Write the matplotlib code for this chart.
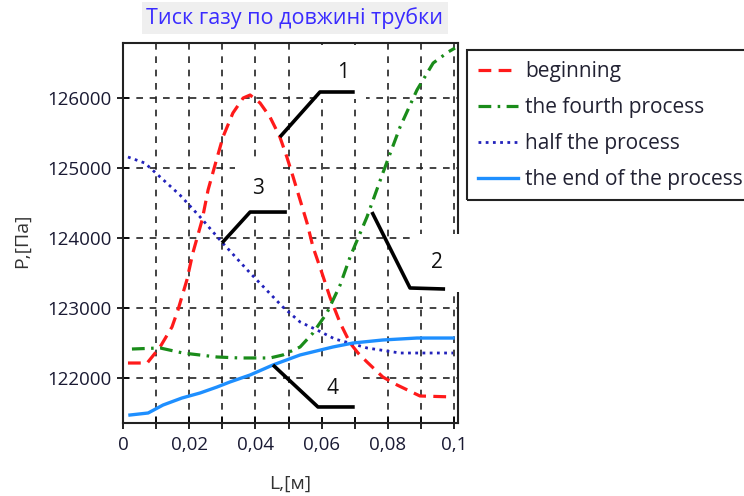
import numpy as np
import matplotlib.pyplot as plt
from matplotlib.patches import Rectangle

plt.rcParams['font.family'] = ['Open Sans', 'DejaVu Sans']

# beginning
x_begin = [0.0015, 0.0073, 0.0112, 0.0148, 0.0166, 0.0193, 0.0211, 0.0239, 0.0257, 0.0278,
           0.0302, 0.0332, 0.0363, 0.0384, 0.0414, 0.0444, 0.0474, 0.0495, 0.0514, 0.0535,
           0.0556, 0.0574, 0.0601, 0.0625, 0.0656, 0.0686, 0.0710, 0.0737, 0.0785, 0.0828,
           0.0897, 0.0997]
p_begin = [122214, 122214, 122443, 122729, 122971, 123400, 123786, 124257, 124686, 125043,
           125443, 125786, 126000, 126043, 125929, 125729, 125443, 125157, 124871, 124543,
           124214, 123871, 123500, 123157, 122786, 122500, 122357, 122229, 122014, 121900,
           121743, 121729]

# the fourth process
x_fourth = [0.0027, 0.0112, 0.0181, 0.0284, 0.0353, 0.0444, 0.0483, 0.0535, 0.0574, 0.0616,
            0.0656, 0.0686, 0.0737, 0.0785, 0.0837, 0.0888, 0.0937, 0.0982, 0.1003]
p_fourth = [122414, 122429, 122357, 122300, 122286, 122286, 122329, 122443, 122643, 122929,
            123329, 123729, 124300, 124929, 125586, 126114, 126500, 126657, 126714]

# half the process
x_half = [0.0015, 0.0066, 0.0172, 0.0233, 0.0293, 0.0384, 0.0483, 0.0535, 0.0586, 0.0640,
          0.0695, 0.0737, 0.0837, 0.0997]
p_half = [125157, 125071, 124614, 124300, 123971, 123500, 123014, 122800, 122686, 122557,
          122486, 122429, 122357, 122357]

# the end of the process
x_end = [0.0021, 0.0076, 0.0121, 0.0178, 0.0233, 0.0284, 0.0323, 0.0384, 0.0453, 0.0535,
         0.0634, 0.0695, 0.0785, 0.0888, 0.0997]
p_end = [121471, 121500, 121614, 121714, 121786, 121871, 121943, 122043, 122186, 122329,
         122443, 122500, 122543, 122571, 122571]

xticks = [0, 0.02, 0.04, 0.06, 0.08, 0.1]
xtick_labels = ['0', '0,02', '0,04', '0,06', '0,08', '0,1']
yticks = [122000, 123000, 124000, 125000, 126000]

# callouts: number, line path (x, y), text position, box padding
callouts = [
    ('1', [(0.0474, 125443), (0.0595, 126086), (0.0700, 126086)], (0.0665, 126371), 12),
    ('2', [(0.0752, 124371), (0.0867, 123286), (0.0973, 123271)], (0.0949, 123643), 13),
    ('3', [(0.0299, 123929), (0.0384, 124371), (0.0495, 124371)], (0.0408, 124714), 12),
    ('4', [(0.0453, 122186), (0.0589, 121586), (0.0700, 121586)], (0.0634, 121857), 13),
]

fig = plt.figure(figsize=(7.44, 4.96), dpi=100)
ax = fig.add_axes([123/744, 1-423/496, 335/744, 380/496])

ax.plot(x_begin, p_begin, color='#ff1a1a', lw=2.3, dashes=(4, 2.3), label='beginning', zorder=3)
ax.plot(x_fourth, p_fourth, color='#1a8c1a', lw=2.3, dashes=(4, 2, 0.8, 2), label='the fourth process', zorder=3)
ax.plot(x_half, p_half, color='#2222bb', lw=2.0, dashes=(1, 1.6), label='half the process', zorder=3)
ax.plot(x_end, p_end, color='#1e8fff', lw=2.4, label='the end of the process', zorder=3)

for num, path, tpos, pad in callouts:
    xs, ys = zip(*path)
    ax.plot(xs, ys, color='black', lw=2.6, solid_capstyle='butt', zorder=7)
    ax.text(tpos[0], tpos[1], num, fontsize=15, ha='center', va='center', color='#111111',
            bbox=dict(facecolor='white', edgecolor='none', pad=pad), zorder=6, clip_on=False)

ax.set_xlim(0, 0.1012)
ax.set_ylim(121357, 126786)
ax.set_xticks(xticks)
ax.set_xticklabels(xtick_labels)
ax.set_yticks(yticks)
ax.set_yticklabels([str(v) for v in yticks])
ax.set_xticks(np.arange(0.01, 0.101, 0.01), minor=True)

ax.tick_params(which='both', direction='inout', length=9, width=1.2, colors='black',
               labelcolor='#1a1a33', labelsize=13.5, top=False, right=False)
ax.tick_params(axis='x', which='major', pad=5)
ax.grid(True, which='both', axis='x', color='#222222', lw=1.2, dashes=(4, 4))
ax.grid(True, which='major', axis='y', color='#222222', lw=1.2, dashes=(4, 4))
ax.set_axisbelow(True)
for s in ax.spines.values():
    s.set_linewidth(1.5)
    s.set_color('#222222')

ax.set_xlabel('L,[м]', fontsize=14, color='#333333')
ax.set_ylabel('P,[Па]', fontsize=14, color='#333333')
ax.xaxis.set_label_coords(0.5, -0.135)
ax.yaxis.set_label_coords(-0.275, 0.48)

fig.text(295/744, 1-18/496, 'Тиск газу по довжині трубки', fontsize=15.5, color='#3a2bff',
         ha='center', va='center',
         bbox=dict(facecolor='#efefef', edgecolor='none', pad=3.5))

leg = ax.legend(loc='upper left', bbox_to_anchor=(467/744, 1-50/496),
                bbox_transform=fig.transFigure, fontsize=15, frameon=False,
                handlelength=1.9, handletextpad=0.35, labelspacing=0.72,
                borderpad=0.55, borderaxespad=0)
for t in leg.get_texts():
    t.set_color('#222233')

# legend frame runs past the right edge, like the cropped original
fig.patches.append(Rectangle((467/744, 1-200/496), 300/744, 150/496, transform=fig.transFigure,
                             fill=False, edgecolor='#222222', lw=1.5))

fig.savefig('out.png', dpi=100)
